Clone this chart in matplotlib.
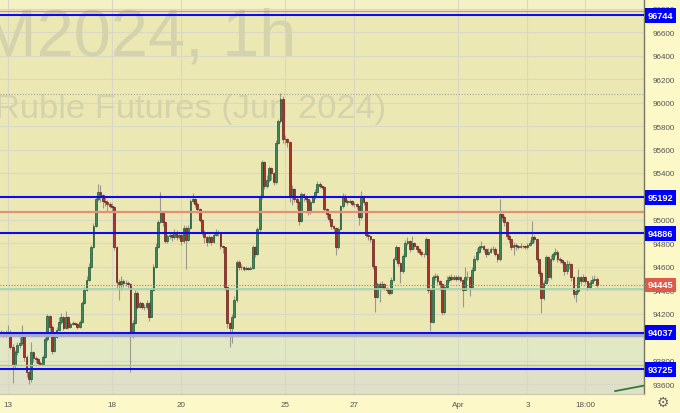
import matplotlib.pyplot as plt

plt.rcParams['font.family'] = ['Liberation Sans', 'DejaVu Sans']

# hourly candles, 12 Mar (last 3 bars) .. 4 Apr; open = previous close
first_open = 94040
closes = [
    94030, 94020, 94030,
    # Mar 13
    94040, 93920, 93760, 93870, 93930, 93950, 94030, 93830, 93700, 93640, 93870, 93820, 93810, 93780, 93775,
    # Mar 14
    93830, 93980, 94180, 94090, 93880, 94000, 94060, 94130, 94170, 94080, 94170, 94090, 94110, 94120, 94115,
    # Mar 15
    94090, 94130, 94290, 94400, 94490, 94600, 94770, 94950, 95180, 95240, 95210, 95160, 95150, 95135, 95120,
    # Mar 18
    95110, 94770, 94470, 94450, 94475, 94460, 94465, 94450, 94020, 94120, 94380, 94260, 94290, 94260, 94260,
    # Mar 19
    94290, 94175, 94400, 94600, 94770, 94980, 95070, 94980, 94820, 94860, 94875, 94850, 94895, 94850, 94875,
    # Mar 20
    94820, 94935, 94830, 94935, 95160, 95180, 95135, 95090, 95000, 94895, 94850, 94815, 94850, 94815, 94875,
    # Mar 21
    94895, 94890, 94775, 94765, 94430, 94120, 94080, 94175, 94320, 94640, 94595, 94595, 94580, 94590, 94585,
    # Mar 22
    94590, 94765, 94705, 94920, 95195, 95495, 95290, 95340, 95440, 95400, 95320, 95660, 95840, 96030, 95690,
    # Mar 25
    95690, 95665, 95200, 95260, 95180, 95150, 94990, 95220, 95195, 95175, 95065, 95150, 95195, 95240, 95305,
    # Mar 26
    95290, 95280, 95090, 95050, 95005, 94945, 94935, 94765, 94920, 95115, 95205, 95160, 95150, 95160, 95135,
    # Mar 27
    95135, 95115, 95025, 95205, 95150, 94875, 94860, 94835, 94605, 94345, 94450, 94430, 94450, 94420, 94400,
    # Mar 28
    94380, 94490, 94665, 94765, 94635, 94560, 94690, 94805, 94820, 94750, 94805, 94775, 94750, 94730, 94705,
    # Mar 29
    94705, 94835, 94405, 94130, 94510, 94525, 94475, 94450, 94215, 94430, 94490, 94510, 94500, 94515, 94500,
    # Apr 1
    94510, 94490, 94405, 94510, 94515, 94430, 94575, 94665, 94730, 94765, 94775, 94750, 94705, 94730, 94750,
    # Apr 2
    94755, 94705, 94665, 95050, 95025, 94980, 94860, 94835, 94765, 94790, 94780, 94765, 94780, 94775, 94765,
    # Apr 3
    94785, 94805, 94850, 94835, 94665, 94550, 94335, 94465, 94680, 94510, 94665, 94705, 94730, 94665, 94655,
    # Apr 4
    94645, 94560, 94620, 94620, 94510, 94365, 94390, 94510, 94475, 94510, 94475, 94425, 94465, 94490, 94500, 94445,
]
highs = [
    94060, 94050, 94060,
    94100, 94060, 93940, 93890, 93960, 94000, 94100, 94040, 93850, 93720, 93960, 93880, 93840, 93820, 93800,
    93850, 94000, 94200, 94190, 94100, 94020, 94090, 94170, 94210, 94180, 94220, 94180, 94130, 94140, 94130,
    94120, 94150, 94310, 94430, 94520, 94630, 94790, 94970, 95200, 95310, 95300, 95220, 95200, 95170, 95150,
    95140, 95120, 94780, 94500, 94520, 94500, 94490, 94480, 94460, 94150, 94400, 94390, 94310, 94300, 94280,
    94320, 94300, 94420, 94620, 94800, 95000, 95240, 95080, 94990, 94880, 94900, 94890, 94920, 94910, 94900,
    94890, 94960, 94950, 94960, 95180, 95230, 95190, 95150, 95100, 95010, 94910, 94860, 94870, 94860, 94900,
    94920, 94910, 94900, 94790, 94770, 94440, 94130, 94200, 94350, 94660, 94660, 94620, 94610, 94610, 94600,
    94610, 94790, 94780, 94940, 95210, 95510, 95500, 95380, 95460, 95450, 95410, 95680, 95860, 96080, 96060,
    95720, 95700, 95670, 95300, 95270, 95200, 95160, 95240, 95230, 95210, 95180, 95170, 95210, 95260, 95330,
    95320, 95300, 95290, 95100, 95060, 95010, 94960, 94940, 94940, 95130, 95230, 95220, 95180, 95180, 95170,
    95150, 95140, 95120, 95250, 95210, 95160, 94890, 94870, 94840, 94610, 94470, 94470, 94480, 94460, 94430,
    94410, 94510, 94680, 94790, 94770, 94640, 94710, 94830, 94850, 94830, 94860, 94810, 94790, 94760, 94740,
    94720, 94850, 94840, 94410, 94530, 94550, 94540, 94490, 94460, 94450, 94520, 94530, 94540, 94530, 94530,
    94530, 94520, 94500, 94600, 94560, 94520, 94600, 94690, 94760, 94790, 94820, 94790, 94760, 94760, 94770,
    94780, 94770, 94720, 95180, 95060, 95040, 94990, 94880, 94840, 94810, 94800, 94790, 94800, 94790, 94790,
    94800, 94830, 94990, 94870, 94840, 94670, 94560, 94490, 94700, 94690, 94700, 94730, 94760, 94740, 94680,
    94670, 94650, 94660, 94650, 94630, 94520, 94420, 94580, 94520, 94540, 94520, 94480, 94490, 94520, 94530, 94510,
]
lows = [
    94010, 94000, 94000,
    94010, 93900, 93610, 93730, 93850, 93910, 93930, 93800, 93660, 93600, 93620, 93790, 93780, 93770, 93760,
    93760, 93820, 93970, 94040, 93860, 93870, 93990, 94050, 94110, 94060, 94070, 94070, 94080, 94100, 94100,
    94070, 94080, 94120, 94280, 94390, 94480, 94590, 94760, 94940, 95160, 95150, 95100, 95120, 95080, 95100,
    95080, 94740, 94420, 94320, 94400, 94430, 94440, 94420, 93700, 93990, 94110, 94240, 94250, 94240, 94230,
    94240, 94140, 94170, 94390, 94590, 94760, 94970, 94950, 94800, 94800, 94840, 94820, 94840, 94830, 94840,
    94790, 94800, 94580, 94820, 94920, 95140, 95110, 95060, 94980, 94870, 94800, 94780, 94800, 94790, 94800,
    94860, 94860, 94750, 94720, 94400, 94080, 93920, 93950, 94160, 94300, 94570, 94570, 94560, 94570, 94570,
    94570, 94580, 94680, 94700, 94900, 95180, 95260, 95270, 95320, 95340, 95300, 95310, 95650, 95830, 95660,
    95650, 95620, 95150, 95130, 95150, 95090, 94960, 94980, 95160, 95150, 95040, 95050, 95140, 95180, 95230,
    95270, 95260, 95070, 95020, 94980, 94920, 94900, 94700, 94750, 94910, 95100, 95140, 95130, 95140, 95120,
    95110, 95090, 94960, 95010, 95130, 94850, 94830, 94810, 94580, 94215, 94330, 94300, 94410, 94400, 94380,
    94360, 94370, 94480, 94650, 94610, 94460, 94550, 94680, 94790, 94730, 94740, 94750, 94730, 94710, 94690,
    94680, 94700, 94380, 94050, 94120, 94490, 94450, 94400, 94190, 94200, 94420, 94470, 94480, 94490, 94480,
    94490, 94470, 94260, 94400, 94490, 94350, 94420, 94560, 94650, 94720, 94750, 94730, 94680, 94700, 94720,
    94730, 94690, 94640, 94650, 94990, 94950, 94840, 94800, 94740, 94700, 94740, 94750, 94760, 94760, 94750,
    94750, 94780, 94800, 94810, 94640, 94520, 94210, 94320, 94450, 94480, 94500, 94650, 94690, 94640, 94630,
    94620, 94530, 94540, 94580, 94480, 94330, 94300, 94380, 94450, 94470, 94450, 94400, 94410, 94460, 94480, 94430,
]
bar_index = list(range(-3, len(closes) - 3))

day_ticks = [0, 45, 75, 120, 150, 195, 225, 250]
day_labels = ['13', '18', '20', '25', '27', 'Apr', '3', '18:00']
price_ticks = list(range(93600, 96801, 200))
hidden_ticks = [95200, 94000]

blue_levels = [96744, 95192, 94886, 94037, 93725]
last_price = 94445
session_high = 96077
red_level = 95068
top_red_level = 96780
green_level = 94414
olive_level = 93763
trend_x = [263, 277]
trend_y = [93540, 93592]

fig = plt.figure(figsize=(6.8, 4.14), dpi=100, facecolor='#fdf8c8')
ax = fig.add_axes([0, 19 / 414, 644 / 680, 395 / 414])
ax.set_facecolor('#ebe8b4')
ax.set_axisbelow(True)

# zones
ax.axhspan(96744, 97000, color='#f2f2c4', zorder=0)
ax.axhspan(93725, 94037, color='#e2e8c4', zorder=0)
ax.axhspan(93000, 93725, color='#dfe0c8', zorder=0)

# watermark
ax.text(-19 / 680, 1 - 55 / 414, 'M2024, 1h', transform=fig.transFigure, fontsize=48,
        color='#d5d3ab', ha='left', va='baseline', zorder=1)
ax.text(-5 / 680, 1 - 118 / 414, 'Ruble Futures (Jun 2024)', transform=fig.transFigure,
        fontsize=24.8, color='#d5d3ab', ha='left', va='baseline', zorder=1)

# candles
opens = [first_open] + closes[:-1]
up = [c >= o for o, c in zip(opens, closes)]
body_col = ['#3d875a' if u else '#aa3228' for u in up]
edge_col = ['#20583a' if u else '#6a1f18' for u in up]
ax.vlines(bar_index, lows, highs, color='#9a9a8c', lw=0.8, zorder=2)
ax.bar(bar_index, [c - o for o, c in zip(opens, closes)], bottom=opens, width=0.78,
       color=body_col, edgecolor=edge_col, linewidth=0.5, zorder=3)

# levels
ax.axhline(94020, color='#a9adc9', lw=2.2, zorder=4)
for lvl in blue_levels:
    ax.axhline(lvl, color='#0a0af5', lw=1.5, zorder=5)
ax.axhline(top_red_level, color='#e08a80', lw=1, zorder=4)
ax.axhline(red_level, color='#e0907c', lw=1.6, zorder=4)
ax.axhline(session_high, color='#a8a898', lw=0.8, ls=(0, (1, 1.5)), zorder=4)
ax.axhline(green_level, color='#9ed6a0', lw=1.2, zorder=4)
ax.axhline(last_price, color='#e06a5a', lw=0.8, ls=(0, (1, 1.5)), zorder=4)
ax.axhline(olive_level, color='#b9c97a', lw=1, zorder=4)
ax.plot(trend_x, trend_y, color='#2e7d32', lw=1.3, zorder=5)

ax.set_xlim(-3.5, 275.5)
ax.set_ylim(93515, 96884)
ax.set_xticks(day_ticks, day_labels)
ax.set_yticks(price_ticks, ['' if t in hidden_ticks else str(t) for t in price_ticks])
ax.yaxis.tick_right()
ax.tick_params(axis='both', length=0, labelsize=5.8, labelcolor='#555555')
ax.tick_params(axis='y', pad=6)
ax.tick_params(axis='x', pad=5)
ax.grid(color='#d9d8c6', lw=0.8)

for s in ['top', 'left']:
    ax.spines[s].set_visible(False)
ax.spines['right'].set_color('#777766')
ax.spines['right'].set_linewidth(1)
ax.spines['bottom'].set_color('#c9c7a8')
ax.spines['bottom'].set_linewidth(0.8)

# price labels on the axis
trans = ax.get_yaxis_transform()
for lvl in blue_levels:
    ax.text(1.006, lvl, str(lvl), transform=trans, ha='left', va='center', fontsize=6.6,
            fontweight='bold', color='white', zorder=10, clip_on=False,
            bbox=dict(boxstyle='square,pad=0.32', fc='#0000ff', ec='none'))
ax.text(1.006, last_price, str(last_price), transform=trans, ha='left', va='center', fontsize=6.6,
        fontweight='bold', color='white', zorder=10, clip_on=False,
        bbox=dict(boxstyle='square,pad=0.32', fc='#e05a4a', ec='none'))

fig.text(663 / 680, 1 - 403 / 414, '\u2699', family='DejaVu Sans', fontsize=10,
         color='#666666', ha='center', va='center')

fig.savefig('out.png', dpi=100)
